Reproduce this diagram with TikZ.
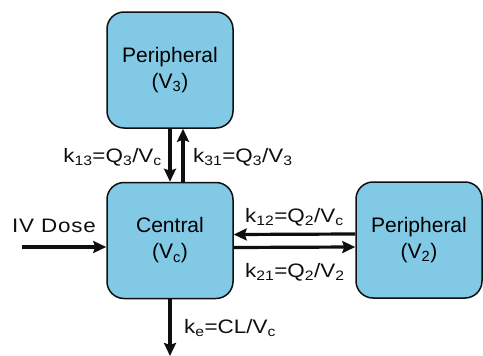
\documentclass[tikz,border=0pt]{standalone}
\usepackage{fontspec}
\setmainfont{Liberation Sans}
\newfontfamily\lblfont[FakeStretch=1.15]{Liberation Sans}
\newfontfamily\dosefont[FakeStretch=1.15,LetterSpace=4]{Liberation Sans}
\usepackage{xcolor}
\definecolor{sky}{RGB}{130,201,229}
\definecolor{ink}{RGB}{15,15,15}
\usepackage{tikz}
\usetikzlibrary{arrows.meta,positioning}

\begin{document}
\begin{tikzpicture}[
  x=1pt,y=-1pt,
  comp/.style={rectangle,rounded corners=17pt,fill=sky,draw=ink,line width=1.5pt,
              font=\fontsize{21}{26}\selectfont,inner sep=0pt,
              minimum width=126pt,minimum height=116pt,align=center},
  rate/.style={font=\lblfont\fontsize{19.5}{23}\selectfont,text=ink,inner sep=0pt},
  flow/.style={line width=3.2pt,draw=ink,-{Stealth[length=13pt,width=12pt,inset=2pt]}},
]
  \useasboundingbox (0,0) rectangle (483,356);

  \node[comp](P3) at (170,70)    {Peripheral\\(V\textsubscript{3})};
  \node[comp](C)  at (170,240.5) {Central\\(V\textsubscript{c})};
  \node[comp](P2) at (419,240)   {Peripheral\\(V\textsubscript{2})};

  \coordinate (dose) at (22,247);
  \coordinate (elim) at (170,356);

  \draw[flow] (P3.south) -- (C.north);
  \draw[flow] ([xshift=13pt]C.north) -- ([xshift=13pt]P3.south);
  \draw[flow] ([yshift=-7pt]C.east) -- ([yshift=-7pt]P2.west);
  \draw[flow] ([yshift=6pt]P2.west) -- ([yshift=6pt]C.east);
  \draw[flow] (dose) -- (dose -| C.west);
  \draw[flow] (C.south) -- (elim);

  \node[rate,anchor=base east](k13) at (162,162) {k\textsubscript{13}=Q\textsubscript{3}/V\textsubscript{c}};
  \node[rate,anchor=base west](k31) at (193,162) {k\textsubscript{31}=Q\textsubscript{3}/V\textsubscript{3}};
  \node[rate,anchor=base west](k12) at (245,222) {k\textsubscript{12}=Q\textsubscript{2}/V\textsubscript{c}};
  \node[rate,anchor=base west](k21) at (245,277) {k\textsubscript{21}=Q\textsubscript{2}/V\textsubscript{2}};
  \node[rate,anchor=base west](ke)  at (184,333) {k\textsubscript{e}=CL/V\textsubscript{c}};
  \node[rate,font=\dosefont\fontsize{19.5}{23}\selectfont,anchor=base west](iv) at (12,232) {IV Dose};

\end{tikzpicture}
\end{document}
